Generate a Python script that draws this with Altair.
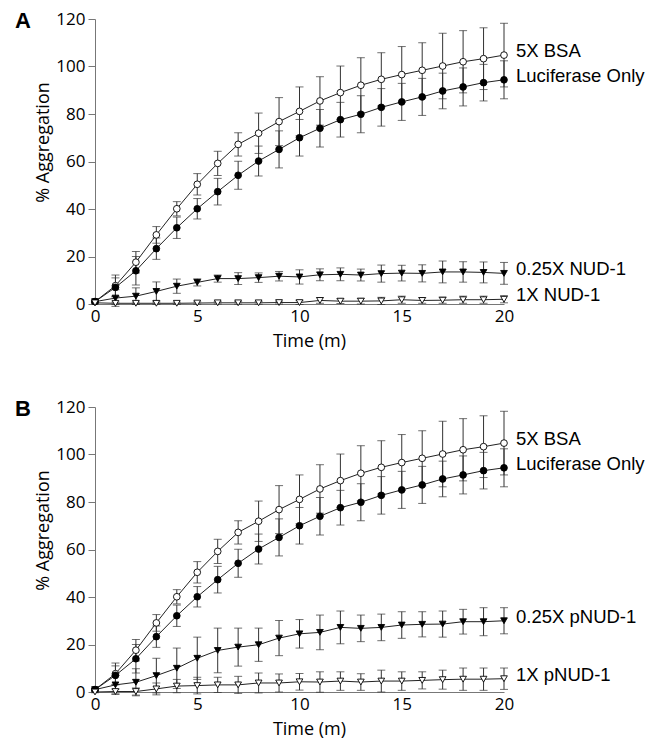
import altair as alt
import pandas as pd

time = list(range(21))

bsa = [1, 7.7, 17.6, 29.1, 40.1, 50.4, 59.2, 67.2, 71.9, 76.8, 81.1, 85.5, 89, 92.1, 94.6, 96.6, 98.4, 100.2, 102, 103.3, 104.8]
bsa_err = [0.5, 4.5, 4.5, 3.5, 3, 4.5, 5.1, 4.9, 8.5, 10.1, 10.3, 10.2, 11.2, 11.6, 11.2, 11.8, 11.6, 13.8, 13.1, 13, 13.4]

luc = [1, 7, 14, 23.3, 32.1, 40.1, 47.3, 54.2, 60.2, 65.1, 70, 74, 77.6, 79.9, 82.8, 85.1, 87.2, 89.7, 91.4, 93.2, 94.4]
luc_err = [0.5, 4, 6, 4.5, 4.5, 4.3, 5.6, 5.9, 6.3, 7.8, 7.7, 7.9, 7.3, 7.8, 7.9, 7.8, 7.8, 7.5, 8, 7.7, 8]

nud_q = [1, 2.5, 3.3, 5.3, 7.5, 9.1, 10.7, 10.7, 11.1, 11.7, 11.4, 12.3, 12.5, 12.2, 12.8, 13, 12.9, 13.5, 13.5, 13.3, 12.9]
nud_q_err = [0.5, 3.5, 3.5, 4, 3, 1.5, 1.5, 2.5, 2, 2, 3, 2.5, 2.7, 2.5, 3.6, 3.3, 3.6, 4.6, 4.3, 4.4, 4.6]

nud_1 = [0.5, 0.3, 0.3, 0.3, 0.3, 0.4, 0.5, 0.5, 0.5, 0.6, 0.6, 1.5, 1.2, 1.2, 1.3, 1.8, 1.5, 1.6, 1.8, 1.8, 2.0]
nud_1_err = [0.5, 0.5, 0.5, 0.5, 0.5, 0.5, 0.5, 0.6, 0.6, 0.6, 0.8, 1.2, 1, 1.2, 1.5, 1.5, 1.2, 1.3, 1.5, 1.5, 1.5]

pnud_q = [1, 3, 4.1, 6.9, 10, 14.2, 17.5, 18.9, 19.9, 22.7, 24.5, 25.1, 27.2, 26.8, 27.2, 28.2, 28.5, 28.6, 29.6, 29.6, 30]
pnud_q_err = [0.5, 4, 5.7, 7.3, 8.5, 8.9, 9.4, 8, 7, 7.4, 6, 7.3, 6.9, 5.6, 5.6, 5.6, 5.3, 5.5, 5.2, 5.9, 5.5]

pnud_1 = [0, 0.2, 0.2, 1.3, 2.5, 2.7, 3, 3, 3.8, 3.8, 4.3, 4.2, 4.6, 4.2, 4.6, 4.6, 4.9, 5.2, 5.4, 5.4, 5.6]
pnud_1_err = [0.3, 1, 1.5, 2.5, 2.8, 3.5, 3.2, 3.6, 4.2, 3.8, 3.5, 4.3, 3.9, 3.5, 4.6, 3.9, 3.6, 4, 4.7, 4.7, 4.5]

x_ticks = [0, 5, 10, 15, 20]
y_ticks = [0, 20, 40, 60, 80, 100, 120]

kinds = ["bsa", "luc", "quarter", "one"]
shape_scale = alt.Scale(domain=kinds, range=["circle", "circle", "triangle-down", "triangle-down"])
fill_scale = alt.Scale(domain=kinds, range=["white", "black", "black", "white"])


def make_df(series):
    rows = []
    for name, kind, vals, errs in series:
        for t, v, e in zip(time, vals, errs):
            rows.append(dict(t=t, v=v, lo=v - e, hi=v + e, series=name, kind=kind))
    return pd.DataFrame(rows)


def panel(df, letter):
    base = alt.Chart(df)
    xenc = alt.X("t:Q", scale=alt.Scale(domain=[0, 20], nice=False),
                 axis=alt.Axis(values=x_ticks, title="Time (m)", ticks=False, labelPadding=4,
                               labelFlush=False,
                               titleX=214, titleY=37, titleAlign="center", titleBaseline="middle"))
    yaxis = alt.Axis(values=y_ticks, title="% Aggregation", tickSize=7, labelPadding=3,
                     titleX=-52, titleY=123, titleAngle=270, titleAlign="center",
                     titleBaseline="middle")
    yscale = alt.Scale(domain=[0, 120], nice=False)

    err = base.mark_errorbar(ticks=True, size=8, thickness=1, color="#333").encode(
        x=xenc,
        y=alt.Y("lo:Q", scale=yscale, axis=yaxis),
        y2="hi:Q",
        detail="kind:N",
    )
    line = base.mark_line(color="#222", strokeWidth=1).encode(
        x=xenc, y=alt.Y("v:Q", scale=yscale, axis=yaxis), detail="kind:N"
    )
    pts = base.mark_point(filled=True, size=45, stroke="black", strokeWidth=0.9, opacity=1).encode(
        x=xenc,
        y=alt.Y("v:Q", scale=yscale, axis=yaxis),
        shape=alt.Shape("kind:N", scale=shape_scale, legend=None),
        fill=alt.Fill("kind:N", scale=fill_scale, legend=None),
    )
    labels = base.transform_filter(alt.datum.t == 20).mark_text(
        align="left", baseline="middle", dx=12, dy=-4, font="Liberation Sans", fontSize=18.5, color="black"
    ).encode(x=xenc, y=alt.Y("v:Q", scale=yscale, axis=yaxis), text="series:N")
    let = alt.Chart(pd.DataFrame({"letter": [letter]})).mark_text(
        font="Liberation Sans", fontWeight="bold", fontSize=22, align="center", baseline="middle", color="black"
    ).encode(text="letter:N", x=alt.value(-72), y=alt.value(2))
    return alt.layer(err, line, pts, labels, let).properties(width=409, height=285)


df_a = make_df([
    ("5X BSA", "bsa", bsa, bsa_err),
    ("Luciferase Only", "luc", luc, luc_err),
    ("0.25X NUD-1", "quarter", nud_q, nud_q_err),
    ("1X NUD-1", "one", nud_1, nud_1_err),
])
df_b = make_df([
    ("5X BSA", "bsa", bsa, bsa_err),
    ("Luciferase Only", "luc", luc, luc_err),
    ("0.25X pNUD-1", "quarter", pnud_q, pnud_q_err),
    ("1X pNUD-1", "one", pnud_1, pnud_1_err),
])

chart = alt.vconcat(panel(df_a, "A"), panel(df_b, "B"), spacing=48).properties(
    padding={"left": 7, "top": 2, "right": 5, "bottom": 0}
).configure_view(stroke=None).configure_axis(
    grid=False,
    domainColor="#777",
    tickColor="#777",
    labelFont="Open Sans",
    labelFontSize=17,
    labelColor="black",
    titleFont="Open Sans",
    titleFontSize=18,
    titleFontWeight="normal",
    titleColor="black",
)

chart.save("out.html", embed_options={"renderer": "svg", "actions": False})
